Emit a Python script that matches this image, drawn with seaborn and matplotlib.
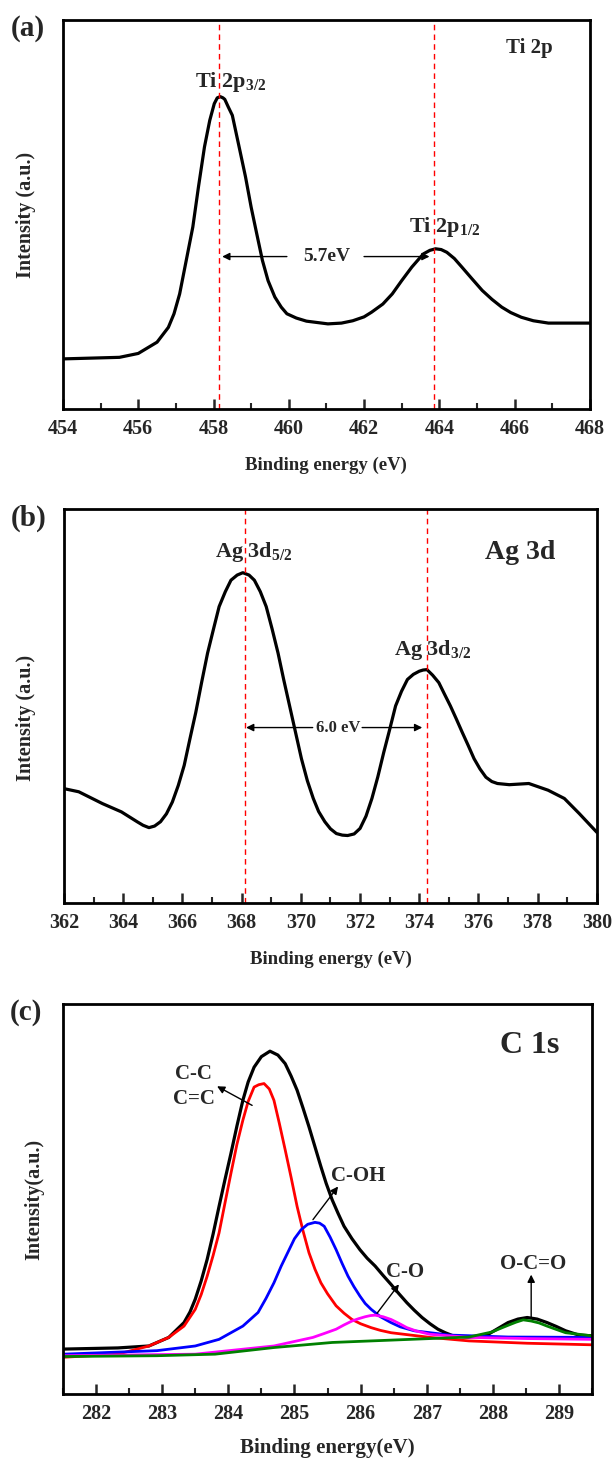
import numpy as np
import pandas as pd
import matplotlib
matplotlib.use("Agg")
import matplotlib.pyplot as plt
from matplotlib.ticker import MultipleLocator
import seaborn as sns

# ---- (a) Ti 2p ----
ti_x = [454.0, 455.5, 456.0, 456.5, 456.8, 456.95, 457.1, 457.45, 457.6, 457.76,
        457.9, 458.02, 458.1, 458.18, 458.25, 458.3, 458.39, 458.5, 458.7, 458.85,
        459.0, 459.15, 459.3, 459.45, 459.63, 459.8, 459.95, 460.2, 460.47, 461.04,
        461.4, 461.7, 462.0, 462.2, 462.5, 462.75, 463.0, 463.27, 463.45, 463.58,
        463.75, 463.9, 464.05, 464.2, 464.4, 464.6, 464.85, 465.14, 465.4, 465.66,
        465.9, 466.18, 466.5, 466.9, 468.0]
ti_y = [0.129, 0.133, 0.143, 0.172, 0.21, 0.245, 0.296, 0.468, 0.571, 0.674,
        0.742, 0.785, 0.8, 0.803, 0.8, 0.796, 0.777, 0.755, 0.665, 0.597,
        0.519, 0.45, 0.382, 0.33, 0.288, 0.262, 0.245, 0.234, 0.226, 0.219,
        0.221, 0.227, 0.237, 0.249, 0.27, 0.296, 0.33, 0.365, 0.385, 0.399,
        0.408, 0.412, 0.41, 0.403, 0.387, 0.365, 0.337, 0.305, 0.282, 0.262,
        0.248, 0.236, 0.227, 0.221, 0.221]
ti_peaks = [458.15, 463.85]

# ---- (b) Ag 3d ----
ag_x = [362.0, 362.5, 363.3, 363.94, 364.47, 364.67, 364.87, 365.06, 365.26, 365.46,
        365.66, 365.86, 366.06, 366.25, 366.45, 366.65, 366.85, 367.05, 367.24, 367.45,
        367.64, 367.85, 368.04, 368.25, 368.43, 368.63, 368.83, 369.03, 369.23, 369.42,
        369.62, 369.82, 370.02, 370.22, 370.42, 370.6, 370.81, 371.0, 371.2, 371.4,
        371.58, 371.8, 372.0, 372.2, 372.4, 372.6, 372.8, 373.0, 373.2, 373.4,
        373.6, 373.8, 374.0, 374.13, 374.26, 374.45, 374.66, 374.85, 375.05, 375.25,
        375.45, 375.65, 375.85, 376.05, 376.25, 376.45, 376.64, 377.04, 377.7, 378.35,
        378.9, 379.4, 380.0]
ag_y = [0.29, 0.282, 0.252, 0.231, 0.206, 0.197, 0.191, 0.195, 0.206, 0.226,
        0.256, 0.298, 0.349, 0.415, 0.483, 0.56, 0.634, 0.695, 0.752, 0.79,
        0.819, 0.832, 0.838, 0.832, 0.819, 0.79, 0.752, 0.695, 0.634, 0.567,
        0.5, 0.433, 0.366, 0.31, 0.265, 0.232, 0.206, 0.188, 0.176, 0.172,
        0.171, 0.175, 0.189, 0.22, 0.265, 0.32, 0.382, 0.44, 0.5, 0.537,
        0.567, 0.58, 0.588, 0.591, 0.592, 0.578, 0.559, 0.53, 0.5, 0.467,
        0.433, 0.4, 0.366, 0.34, 0.319, 0.308, 0.303, 0.3, 0.303, 0.286,
        0.265, 0.227, 0.179]
ag_peaks = [368.1, 374.25]

# ---- (c) C 1s ----
c_env_x = [281.5, 282.33, 282.8, 283.1, 283.33, 283.42, 283.5, 283.59, 283.68, 283.77,
           283.86, 283.95, 284.04, 284.13, 284.22, 284.3, 284.39, 284.5, 284.63, 284.75,
           284.86, 284.95, 285.04, 285.13, 285.22, 285.31, 285.4, 285.48, 285.57, 285.66,
           285.75, 285.87, 285.99, 286.1, 286.22, 286.34, 286.46, 286.58, 286.7, 286.81,
           286.93, 287.05, 287.17, 287.28, 287.4, 287.64, 287.93, 288.08, 288.23, 288.38,
           288.52, 288.67, 288.82, 288.96, 289.1, 289.3, 289.5]
c_env_y = [0.115, 0.118, 0.123, 0.145, 0.183, 0.21, 0.243, 0.29, 0.345, 0.41,
           0.481, 0.55, 0.617, 0.687, 0.753, 0.8, 0.838, 0.865, 0.879, 0.869,
           0.847, 0.815, 0.779, 0.733, 0.685, 0.634, 0.583, 0.54, 0.498, 0.463,
           0.43, 0.398, 0.37, 0.348, 0.328, 0.304, 0.281, 0.257, 0.234, 0.215,
           0.196, 0.18, 0.166, 0.157, 0.149, 0.145, 0.153, 0.168, 0.183, 0.192,
           0.196, 0.192, 0.183, 0.173, 0.162, 0.151, 0.149]
cc_x = [281.5, 282.33, 282.8, 283.1, 283.33, 283.5, 283.59, 283.68, 283.77, 283.86,
        283.95, 284.04, 284.13, 284.22, 284.3, 284.39, 284.46, 284.54, 284.62, 284.69,
        284.77, 284.86, 284.95, 285.04, 285.13, 285.22, 285.31, 285.4, 285.5, 285.63,
        285.75, 285.87, 286.0, 286.16, 286.3, 286.46, 287.05, 287.64, 288.52, 289.5]
cc_y = [0.094, 0.102, 0.123, 0.145, 0.174, 0.217, 0.255, 0.302, 0.355, 0.413,
        0.49, 0.566, 0.64, 0.702, 0.75, 0.787, 0.793, 0.796, 0.782, 0.753,
        0.695, 0.626, 0.555, 0.481, 0.418, 0.362, 0.32, 0.285, 0.257, 0.226,
        0.207, 0.191, 0.18, 0.17, 0.163, 0.157, 0.145, 0.136, 0.13, 0.126]
coh_x = [281.5, 282.92, 283.5, 283.86, 284.22, 284.45, 284.57, 284.69, 284.8, 284.92,
         285.0, 285.1, 285.2, 285.31, 285.38, 285.45, 285.54, 285.63, 285.72, 285.81,
         285.9, 285.99, 286.07, 286.16, 286.3, 286.46, 286.6, 286.81, 287.34, 288.23, 289.5]
coh_y = [0.102, 0.111, 0.123, 0.14, 0.174, 0.209, 0.245, 0.285, 0.328, 0.37,
         0.398, 0.421, 0.435, 0.44, 0.438, 0.43, 0.402, 0.37, 0.335, 0.302,
         0.275, 0.251, 0.232, 0.217, 0.198, 0.183, 0.172, 0.162, 0.151, 0.146, 0.145]
co_x = [281.5, 283.5, 284.69, 285.28, 285.45, 285.63, 285.75, 285.87, 285.97, 286.07,
        286.15, 286.22, 286.34, 286.46, 286.58, 286.7, 286.85, 287.05, 287.64, 288.52, 289.5]
co_y = [0.098, 0.102, 0.123, 0.145, 0.155, 0.166, 0.177, 0.187, 0.193, 0.198,
        0.201, 0.202, 0.198, 0.191, 0.181, 0.17, 0.161, 0.153, 0.145, 0.142, 0.14]
oco_x = [281.5, 282.92, 283.8, 284.69, 285.57, 286.46, 287.05, 287.64, 287.99, 288.1,
         288.23, 288.35, 288.46, 288.58, 288.7, 288.82, 288.95, 289.1, 289.5]
oco_y = [0.096, 0.098, 0.102, 0.119, 0.132, 0.138, 0.142, 0.146, 0.159, 0.167,
         0.176, 0.184, 0.19, 0.187, 0.182, 0.174, 0.166, 0.157, 0.149]

sns.set_theme(style="ticks")
plt.rcParams['font.family'] = ['Liberation Serif', 'DejaVu Serif']
plt.rcParams['font.weight'] = 'bold'
plt.rcParams['mathtext.fontset'] = 'custom'
plt.rcParams['mathtext.rm'] = 'Liberation Serif:bold'
plt.rcParams['mathtext.it'] = 'Liberation Serif:bold'
plt.rcParams['mathtext.bf'] = 'Liberation Serif:bold'

fig = plt.figure(figsize=(6.14, 14.61), dpi=100)
ax_a = fig.add_axes([0.1026, 0.720, 0.858, 0.2663])
ax_b = fig.add_axes([0.1042, 0.382, 0.868, 0.2697])
ax_c = fig.add_axes([0.1026, 0.0459, 0.8616, 0.2669])


def style_axis(ax, xlim, major, minor, ylabel, ylab_x, ylab_y=0.5):
    ax.set_xlim(xlim)
    ax.set_ylim(0, 1)
    ax.xaxis.set_major_locator(MultipleLocator(major))
    ax.xaxis.set_minor_locator(MultipleLocator(minor))
    ax.set_yticks([])
    ax.tick_params(axis='x', which='major', direction='in', length=7, width=1.8,
                   labelsize=14.5, pad=7, top=False)
    ax.tick_params(axis='x', which='minor', direction='in', length=4, width=1.5, top=False)
    for lab in ax.get_xticklabels():
        lab.set_fontweight('bold')
    for sp in ax.spines.values():
        sp.set_linewidth(2.0)
        sp.set_color('black')
        sp.set_visible(True)
    ax.set_ylabel(ylabel, fontsize=14.5, fontweight='bold')
    ax.yaxis.set_label_coords(ylab_x, ylab_y)


def draw(ax, xs, ys, color, lw):
    df = pd.DataFrame({'x': xs, 'y': ys})
    sns.lineplot(data=df, x='x', y='y', ax=ax, color=color, lw=lw, sort=False)


arrow_kw = dict(arrowstyle='-|>', color='black', lw=1.0, mutation_scale=11, shrinkA=0, shrinkB=0)

# panel (a)
draw(ax_a, ti_x, ti_y, 'black', 2.3)
for p in ti_peaks:
    ax_a.axvline(p, color='red', ls=(0, (4, 3)), lw=1.0)
style_axis(ax_a, (454, 468), 2, 1, 'Intensity (a.u.)', -0.052)
ax_a.set_xlabel('Binding energy (eV)', fontsize=13.5, fontweight='bold', labelpad=13)
ax_a.annotate('', xy=(458.23, 0.392), xytext=(459.95, 0.392), arrowprops=arrow_kw)
ax_a.annotate('', xy=(463.74, 0.392), xytext=(462.0, 0.392), arrowprops=arrow_kw)
ax_a.text(461.0, 0.392, '5.7eV', ha='center', va='center', fontsize=14)
ax_a.text(458.45, 0.84, 'Ti 2p$_{3/2}$', ha='center', va='center', fontsize=16)
ax_a.text(464.15, 0.468, 'Ti 2p$_{1/2}$', ha='center', va='center', fontsize=16)
ax_a.text(466.4, 0.927, 'Ti 2p', ha='center', va='center', fontsize=15)
ax_a.text(-0.10, 0.977, '(a)', transform=ax_a.transAxes, ha='left', va='center', fontsize=21)

# panel (b)
draw(ax_b, ag_x, ag_y, 'black', 2.3)
for p in ag_peaks:
    ax_b.axvline(p, color='red', ls=(0, (4, 3)), lw=1.0)
style_axis(ax_b, (362, 380), 2, 1, 'Intensity (a.u.)', -0.052, 0.47)
ax_b.set_xlabel('Binding energy (eV)', fontsize=13.5, fontweight='bold', labelpad=13)
ax_b.annotate('', xy=(368.15, 0.445), xytext=(370.4, 0.445), arrowprops=arrow_kw)
ax_b.annotate('', xy=(374.1, 0.445), xytext=(372.07, 0.445), arrowprops=arrow_kw)
ax_b.text(371.25, 0.445, '6.0 eV', ha='center', va='center', fontsize=12)
ax_b.text(368.4, 0.89, 'Ag 3d$_{5/2}$', ha='center', va='center', fontsize=16)
ax_b.text(374.45, 0.643, 'Ag 3d$_{3/2}$', ha='center', va='center', fontsize=16)
ax_b.text(377.4, 0.89, 'Ag 3d', ha='center', va='center', fontsize=20)
ax_b.text(-0.10, 0.977, '(b)', transform=ax_b.transAxes, ha='left', va='center', fontsize=21)

# panel (c)
draw(ax_c, c_env_x, c_env_y, 'black', 2.3)
draw(ax_c, cc_x, cc_y, 'red', 2.0)
draw(ax_c, coh_x, coh_y, 'blue', 2.0)
draw(ax_c, co_x, co_y, 'magenta', 2.0)
draw(ax_c, oco_x, oco_y, 'green', 2.0)
style_axis(ax_c, (281.5, 289.5), 1, 0.5, 'Intensity(a.u.)', -0.036)
ax_c.set_xlabel('Binding energy(eV)', fontsize=15, fontweight='bold', labelpad=10)
ax_c.annotate('', xy=(283.83, 0.789), xytext=(284.36, 0.74), arrowprops=arrow_kw)
ax_c.text(283.48, 0.789, 'C-C\nC=C', ha='center', va='center', fontsize=15, linespacing=1.3)
ax_c.annotate('', xy=(285.66, 0.532), xytext=(285.28, 0.447), arrowprops=arrow_kw)
ax_c.text(285.97, 0.559, 'C-OH', ha='center', va='center', fontsize=15)
ax_c.annotate('', xy=(286.58, 0.281), xytext=(286.25, 0.207), arrowprops=arrow_kw)
ax_c.text(286.68, 0.312, 'C-O', ha='center', va='center', fontsize=15)
ax_c.annotate('', xy=(288.58, 0.306), xytext=(288.58, 0.196), arrowprops=arrow_kw)
ax_c.text(288.61, 0.332, 'O-C=O', ha='center', va='center', fontsize=15)
ax_c.text(288.55, 0.894, 'C 1s', ha='center', va='center', fontsize=23)
ax_c.text(-0.10, 0.977, '(c)', transform=ax_c.transAxes, ha='left', va='center', fontsize=21)

fig.savefig('out.png', dpi=100)
